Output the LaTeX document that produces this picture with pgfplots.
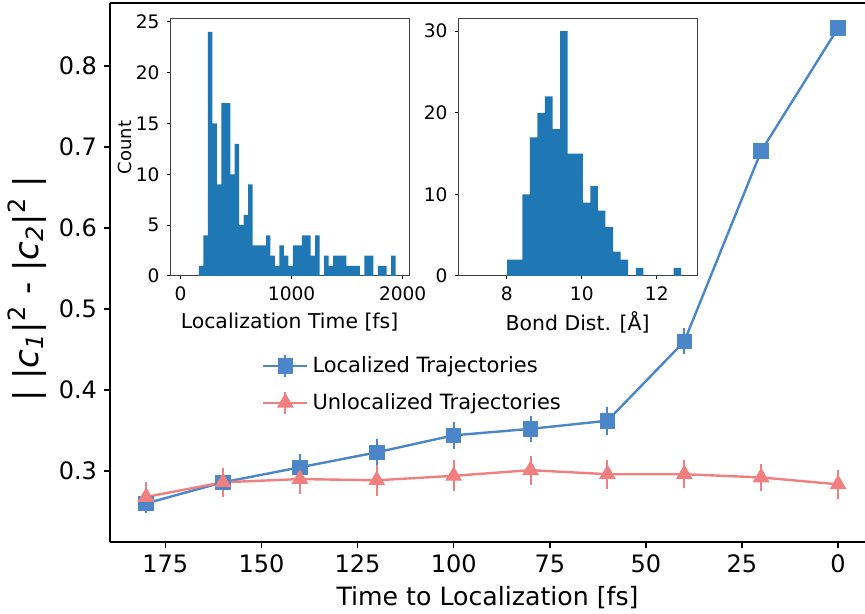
\documentclass[border=0pt]{standalone}
\usepackage{pgfplots}
\pgfplotsset{compat=1.18}
\usepackage{fontspec}
\setmainfont{DejaVu Sans}
\usepackage{graphicx}
\definecolor{locblue}{RGB}{74,134,200}
\definecolor{unlocred}{RGB}{240,128,128}
\definecolor{histblue}{RGB}{31,119,180}

\begin{document}
\begin{tikzpicture}
\useasboundingbox (0,0) rectangle (432.5pt,307pt);

% main panel: coherence difference vs. time before localization
\begin{axis}[
  at={(55pt,36pt)}, anchor=south west,
  scale only axis, width=377.5pt, height=269.5pt,
  x dir=reverse,
  xmin=-7.0, xmax=189.4, ymin=0.2123, ymax=0.8778,
  axis x line*=box, axis y line*=left,
  xtick={0,25,50,75,100,125,150,175},
  ytick={0.3,0.4,0.5,0.6,0.7,0.8},
  yticklabel style={/pgf/number format/fixed, /pgf/number format/fixed zerofill, /pgf/number format/precision=1},
  /pgf/number format/assume math mode=true,
  tick align=outside, tick pos=left,
  major tick length=3pt,
  tick style={line width=0.8pt, black},
  axis line style={line width=1pt},
  ticklabel style={font=\fontsize{12}{14}\selectfont},
  xlabel={Time to Localization [fs]},
  xlabel style={font=\fontsize{12.6}{15}\selectfont, at={(axis description cs:0.5,-0.104)}, anchor=center},
  ylabel={| |\textit{c}\textsubscript{\textit{1}}|\textsuperscript{2} - |\textit{c}\textsubscript{\textit{2}}|\textsuperscript{2} |},
  ylabel style={font=\fontsize{17}{20}\selectfont, at={(axis description cs:-0.11,0.47)}, anchor=center},
  error bars/y dir=both, error bars/y explicit,
  error bars/error mark=none,
  error bars/error bar style={line width=1pt},
  legend image code/.code={
    \draw[#1, mark=none, line width=1pt] (11pt,-5.5pt) -- (11pt,5.5pt);
    \draw[mark repeat=2, mark phase=2, #1] plot coordinates {(0pt,0pt) (11pt,0pt) (22pt,0pt)};
  },
  legend style={draw=none, fill=none, at={(axis description cs:0.193,0.36)}, anchor=north west,
    font=\fontsize{10.5}{12}\selectfont, row sep=5pt,
    /tikz/every even column/.append style={column sep=2pt}},
  legend cell align=left,
]
\addplot[locblue, line width=1.2pt, mark=square*, mark size=3.3pt, mark options={solid}]
  coordinates {
    (180,0.260) +- (0,0.012)
    (160,0.286) +- (0,0.013)
    (140,0.3045) +- (0,0.017)
    (120,0.323) +- (0,0.017)
    (100,0.344) +- (0,0.017)
    (80,0.352) +- (0,0.016)
    (60,0.362) +- (0,0.017)
    (40,0.460) +- (0,0.016)
    (20,0.695) +- (0,0.009)
    (0,0.847) +- (0,0.005)
  };
\addlegendentry{Localized Trajectories}
\addplot[unlocred, line width=1.2pt, mark=triangle*, mark size=3.7pt, mark options={solid}]
  coordinates {
    (180,0.268) +- (0,0.018)
    (160,0.286) +- (0,0.018)
    (140,0.290) +- (0,0.018)
    (120,0.2885) +- (0,0.019)
    (100,0.294) +- (0,0.019)
    (80,0.301) +- (0,0.018)
    (60,0.296) +- (0,0.018)
    (40,0.296) +- (0,0.017)
    (20,0.292) +- (0,0.017)
    (0,0.2835) +- (0,0.018)
  };
\addlegendentry{Unlocalized Trajectories}
\end{axis}

% inset: distribution of localization times
\begin{axis}[
  at={(85pt,169pt)}, anchor=south west,
  scale only axis, width=119.5pt, height=128.5pt,
  xmin=-96, xmax=2057, ymin=0, ymax=25.27,
  xtick={0,1000,2000}, ytick={0,5,10,15,20,25},
  /pgf/number format/assume math mode=true,
  /pgf/number format/1000 sep={},
  scaled ticks=false,
  axis background/.style={fill=white},
  tick align=outside, tick pos=left,
  major tick length=1.75pt,
  tick style={line width=0.5pt, black},
  axis line style={black!75, line width=0.5pt},
  ticklabel style={font=\fontsize{9.3}{11}\selectfont},
  xlabel={Localization Time [fs]},
  xlabel style={font=\fontsize{10.2}{12}\selectfont, at={(axis description cs:0.5,-0.18)}, anchor=center},
  ylabel={Count},
  ylabel style={font=\fontsize{9}{11}\selectfont, at={(axis description cs:-0.19,0.5)}, anchor=center},
]
\addplot[ybar interval, fill=histblue, draw=none] coordinates {
  (165.0,1) (205.3,4) (245.5,24) (285.8,15) (326.1,9) (366.4,17) (406.6,17) (446.9,10)
  (487.2,13) (527.4,5) (567.7,6) (608.0,9) (648.2,3) (688.5,3) (728.8,3) (769.1,4)
  (809.3,2) (849.6,1) (889.9,3) (930.1,2) (970.4,1) (1010.7,3) (1050.9,3) (1091.2,4)
  (1131.5,4) (1171.8,2) (1212.0,4) (1252.3,0) (1292.6,2) (1332.8,1) (1373.1,2) (1413.4,2)
  (1453.6,2) (1493.9,1) (1534.2,1) (1574.5,1) (1614.7,0) (1655.0,2) (1695.3,2) (1735.5,0)
  (1775.8,1) (1816.1,1) (1856.3,0) (1896.6,2) (1936.9,2)
};
\end{axis}

% inset: distribution of bond distances at localization
\begin{axis}[
  at={(229pt,169pt)}, anchor=south west,
  scale only axis, width=119.65pt, height=128.5pt,
  xmin=6.7, xmax=13.08, ymin=0, ymax=31.5,
  xtick={8,10,12}, ytick={0,10,20,30},
  /pgf/number format/assume math mode=true,
  axis background/.style={fill=white},
  tick align=outside, tick pos=left,
  major tick length=1.75pt,
  tick style={line width=0.5pt, black},
  axis line style={black!75, line width=0.5pt},
  ticklabel style={font=\fontsize{9.3}{11}\selectfont},
  xlabel={Bond Dist. [Å]},
  xlabel style={font=\fontsize{10.2}{12}\selectfont, at={(axis description cs:0.5,-0.18)}, anchor=center},
]
\addplot[ybar interval, fill=histblue, draw=none] coordinates {
  (8.010,2) (8.212,2) (8.413,10) (8.615,17) (8.817,20) (9.019,22) (9.220,18) (9.422,30)
  (9.624,15) (9.825,15) (10.027,9) (10.229,11) (10.430,8) (10.632,6) (10.834,3) (11.036,2)
  (11.237,0) (11.439,1) (11.641,0) (11.842,0) (12.044,0) (12.246,0) (12.447,1) (12.649,1)
};
\end{axis}
\end{tikzpicture}
\end{document}
